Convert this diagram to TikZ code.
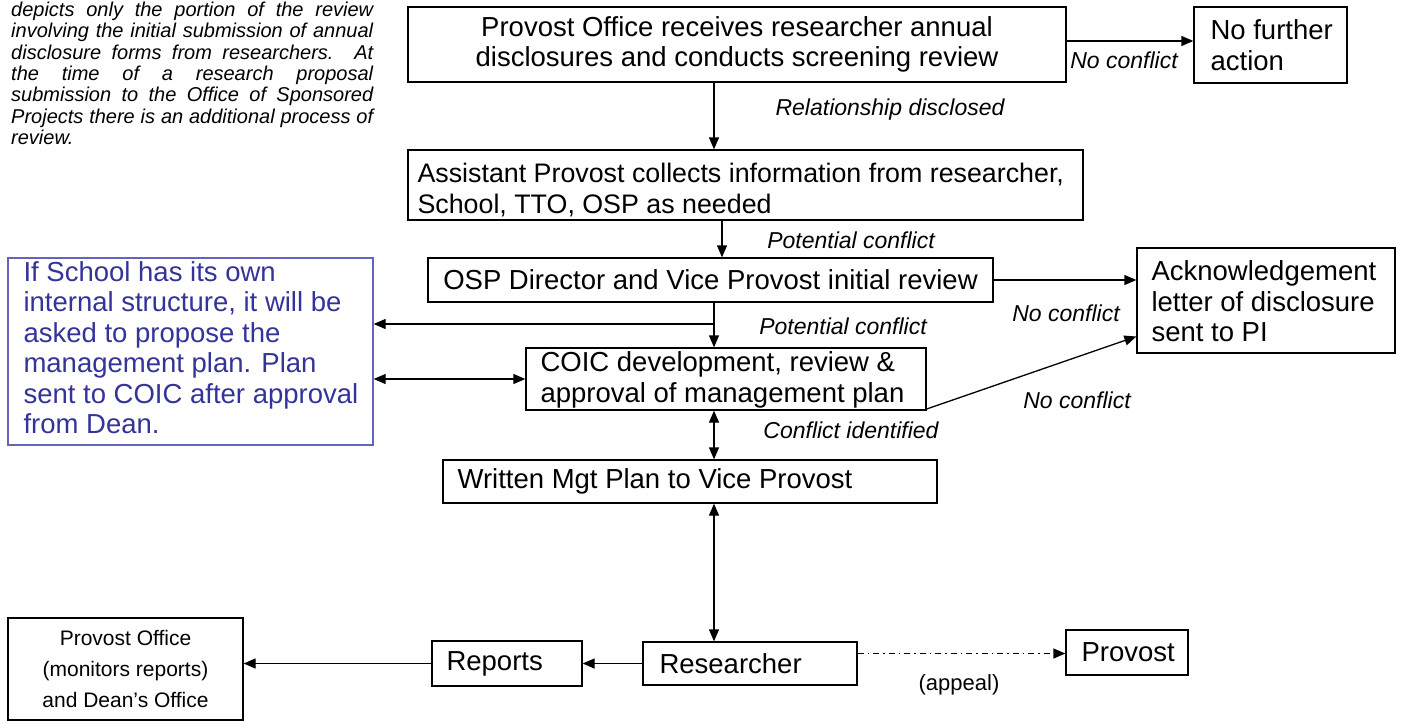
\documentclass[tikz,border=0pt]{standalone}
\usepackage{fontspec}
\setmainfont{Liberation Sans}
\usetikzlibrary{arrows.meta}
\definecolor{bluetxt}{RGB}{51,51,153}
\definecolor{blueline}{RGB}{100,100,190}
\hyphenpenalty=10000
\exhyphenpenalty=10000
\hbadness=10000
\hfuzz=50pt
\begin{document}
\begin{tikzpicture}[x=1pt,y=-1pt,
  box/.style={draw,line width=1.3pt,inner sep=0pt,minimum width=#1},
  ltxt/.style={font=\fontsize{27.5}{30.5}\selectfont,align=left,inner sep=0pt,anchor=west},
  ctxt/.style={font=\fontsize{27.5}{30.5}\selectfont,align=center},
  lbl/.style={font=\fontsize{23}{26}\selectfont\itshape,inner sep=0pt},
  tip/.tip={Triangle[length=12pt,width=10pt]},
  arr/.style={line width=1.3pt,-tip},
  darr/.style={line width=1.3pt,tip-tip}]
\useasboundingbox (0,0) rectangle (1402,723);
% note paragraph
\node[anchor=north west,inner sep=0pt,text width=362pt,align=justify,
  font=\fontsize{20}{21.3}\selectfont\itshape] (note) at (11,2)
  {depicts only the portion of the review\linebreak involving the initial submission of annual\linebreak disclosure forms from researchers.\ \ At\linebreak the time of a research proposal\linebreak submission to the Office of Sponsored\linebreak Projects there is an additional process of\linebreak review.};
% boxes
\node[box=658pt,minimum height=75pt,ctxt] (top) at (737,44.5)
  {Provost Office receives researcher annual\\disclosures and conducts screening review};
\node[box=153pt,minimum height=76pt] (nof) at (1270.5,45) {};
\node[ltxt] (noft) at ([xshift=17pt]nof.west) {No further\\action};
\node[box=675pt,minimum height=70pt] (asst) at (745.5,185) {};
\node[ltxt,font=\fontsize{26.8}{30.5}\selectfont] (asstt) at ([xshift=10pt,yshift=-5pt]asst.west)
  {Assistant Provost collects information from researcher,\\School, TTO, OSP as needed};
\node[box=565pt,minimum height=44pt,ctxt] (osp) at (710.5,280)
  {OSP Director and Vice Provost initial review};
\node[box=258pt,minimum height=105pt] (ack) at (1266,300.5) {};
\node[ltxt] (ackt) at ([xshift=15pt,yshift=-1pt]ack.west)
  {Acknowledgement\\letter of disclosure\\sent to PI};
\node[draw=blueline,line width=1.3pt,minimum width=365pt,minimum height=187pt,inner sep=0pt] (blue) at (190.5,351.5) {};
\node[ltxt,text=bluetxt] (bluet) at ([xshift=16pt,yshift=4pt]blue.west)
  {If School has its own\\internal structure, it will be\\asked to propose the\\management plan. Plan\\sent to COIC after approval\\from Dean.};
\node[box=400pt,minimum height=62pt] (coic) at (726,379) {};
\node[ltxt] (coict) at ([xshift=15pt,yshift=-1pt]coic.west)
  {COIC development, review \&\\approval of management plan};
\node[box=494pt,minimum height=43pt] (written) at (690,481.5) {};
\node[ltxt] (writtent) at ([xshift=15pt]written.west) {Written Mgt Plan to Vice Provost};
\node[box=214pt,minimum height=43pt] (res) at (750,663.5) {};
\node[ltxt] (rest) at ([xshift=17pt]res.west) {Researcher};
\node[box=150pt,minimum height=45pt] (rep) at (507,663.5) {};
\node[ltxt] (rept) at ([xshift=15pt]rep.west) {Reports};
\node[box=235pt,minimum height=102pt,align=center,font=\fontsize{21}{31}\selectfont] (povo) at (125.5,669)
  {Provost Office\\(monitors reports)\\and Dean’s Office};
\node[box=122pt,minimum height=45pt] (prov) at (1127,652.5) {};
\node[ltxt] (provt) at ([xshift=16pt]prov.west) {Provost};
% helper coordinates
\coordinate (c1) at (714,0);
\coordinate (c2) at (722,0);
\coordinate (br) at (714,324);
% connectors
\draw[arr] (top.east |- nof.west) ++(0,-4) coordinate (a1) -- (a1 -| nof.west);
\draw[arr] (top.south -| c1) -- (asst.north -| c1);
\draw[arr] (asst.south -| c2) -- (osp.north -| c2);
\draw[arr] (osp.east) -- (osp.east -| ack.west);
\draw[arr] (osp.south -| c1) -- (coic.north -| c1);
\draw[arr] (br) -- (br -| blue.east);
\draw[darr] (blue.east |- coic.west) -- (coic.west);
\draw[arr] ([yshift=-30pt]coic.east) -- ([yshift=-36pt]ack.west);
\draw[darr] (coic.south -| c1) -- (written.north -| c1);
\draw[darr] (written.south -| c1) -- (res.north -| c1);
\draw[arr] (res.west) -- (rep.east);
\draw[arr] (rep.west) -- (rep.west -| povo.east);
\draw[line width=1.3pt,dash pattern=on 6pt off 4pt on 1.5pt off 4pt,-tip]
  ([yshift=10pt]res.east) -- ([yshift=10pt]res.east -| prov.west);
% labels
\node[lbl] (l1) at (1124,60) {No conflict};
\node[lbl] (l2) at (890,110) {Relationship disclosed};
\node[lbl] (l3) at (851,240) {Potential conflict};
\node[lbl] (l4) at (1066,313) {No conflict};
\node[lbl] (l5) at (843,326) {Potential conflict};
\node[lbl] (l6) at (1077,400) {No conflict};
\node[lbl] (l7) at (851,430) {Conflict identified};
\node[inner sep=0pt,font=\fontsize{22}{26}\selectfont] (l8) at (959,685) {(appeal)};
\end{tikzpicture}
\end{document}
